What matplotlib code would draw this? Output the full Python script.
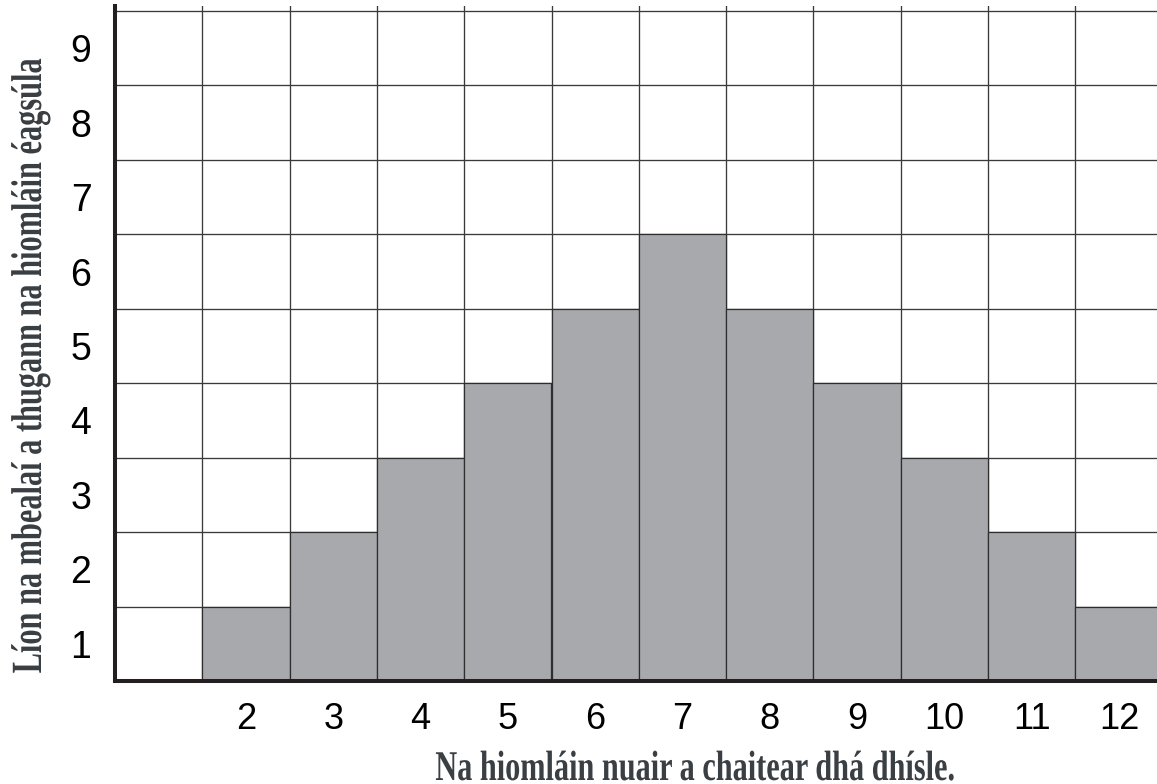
import matplotlib
matplotlib.use("Agg")
import matplotlib.pyplot as plt
import matplotlib.patheffects as pe
from matplotlib.transforms import Affine2D
import numpy as np

# ---- data ----
sums = [2, 3, 4, 5, 6, 7, 8, 9, 10, 11, 12]
ways = [1, 2, 3, 4, 5, 6, 5, 4, 3, 2, 1]
y_levels = [1, 2, 3, 4, 5, 6, 7, 8, 9]
x_label = "Na hiomláin nuair a chaitear dhá dhísle."
y_label = "Líon na mbealaí a thugann na hiomláin éagsúla"


class VScale(pe.AbstractPathEffect):
    """Stretch glyphs perpendicular to the baseline (gives a condensed look)."""
    def __init__(self, sy):
        super().__init__()
        self.sy = sy

    def draw_path(self, renderer, gc, tpath, affine, rgbFace=None):
        t = Affine2D().scale(1.0, self.sy) + affine
        renderer.draw_path(gc, tpath, t, rgbFace)


W, H = 1157, 784
fig = plt.figure(figsize=(W / 100, H / 100), dpi=100)
fig.patch.set_facecolor("white")

left_px, bottom_px, top_px = 115, 681, 6
col_px, row_px = 87.3, 74.44
ax = fig.add_axes([left_px / W, 1 - bottom_px / H, 1 - left_px / W, (bottom_px - top_px) / H])
ax.set_xlim(0.5, 0.5 + (W - left_px) / col_px)
ax.set_ylim(0, (bottom_px - top_px) / row_px)

ax.bar(sums, ways, width=1.0, color="#a8a9ad", edgecolor="#2e2e2e", linewidth=0.9, zorder=2)

# grid at cell edges (minor ticks), labels at cell centres (major ticks)
ax.set_xticks(np.arange(1.5, 12.0, 1.0), minor=True)
ax.set_yticks(np.array(y_levels, dtype=float), minor=True)
ax.set_xticks(sums, labels=[str(s) for s in sums])
ax.set_yticks(np.array(y_levels) - 0.5, labels=[str(v) for v in y_levels])
ax.set_axisbelow(True)
ax.grid(which="minor", color="#3a3a3a", linewidth=0.95)
ax.grid(which="major", visible=False)

ax.tick_params(which="both", length=0)
ax.tick_params(axis="x", which="major", pad=15, labelsize=26)
ax.tick_params(axis="y", which="major", pad=17, labelsize=27)
for lab in ax.get_xticklabels() + ax.get_yticklabels():
    lab.set_fontfamily("Liberation Serif" if False else "Liberation Sans")
    lab.set_color("black")

for s in ("top", "right"):
    ax.spines[s].set_visible(False)
for s in ("left", "bottom"):
    ax.spines[s].set_linewidth(2.9)
    ax.spines[s].set_color("#231f20")
    ax.spines[s].set_capstyle("projecting")
    ax.spines[s].set_zorder(3)

label_color = "#3a3f44"
full_x, full_y = 30.5, 31.0        # visual glyph heights (pt)
target_x, target_y = 520.0, 614.0  # visual text lengths (px)

tx = fig.text(695 / W, 1 - 780 / H, x_label, ha="center", va="baseline",
              fontsize=full_x, fontfamily="Liberation Serif", fontweight="bold",
              color=label_color)
ty = fig.text(41 / W, 1 - 365 / H, y_label, ha="center", va="baseline",
              rotation=90, rotation_mode="anchor",
              fontsize=full_y, fontfamily="Liberation Serif", fontweight="bold",
              color=label_color)

fig.canvas.draw()
r = fig.canvas.get_renderer()
wx = tx.get_window_extent(r).width
wy = ty.get_window_extent(r).height
tx.set_fontsize(full_x * target_x / wx)
ty.set_fontsize(full_y * target_y / wy)
tx.set_path_effects([VScale(wx / target_x)])
ty.set_path_effects([VScale(wy / target_y)])

fig.savefig("out.png", dpi=100, facecolor="white")
